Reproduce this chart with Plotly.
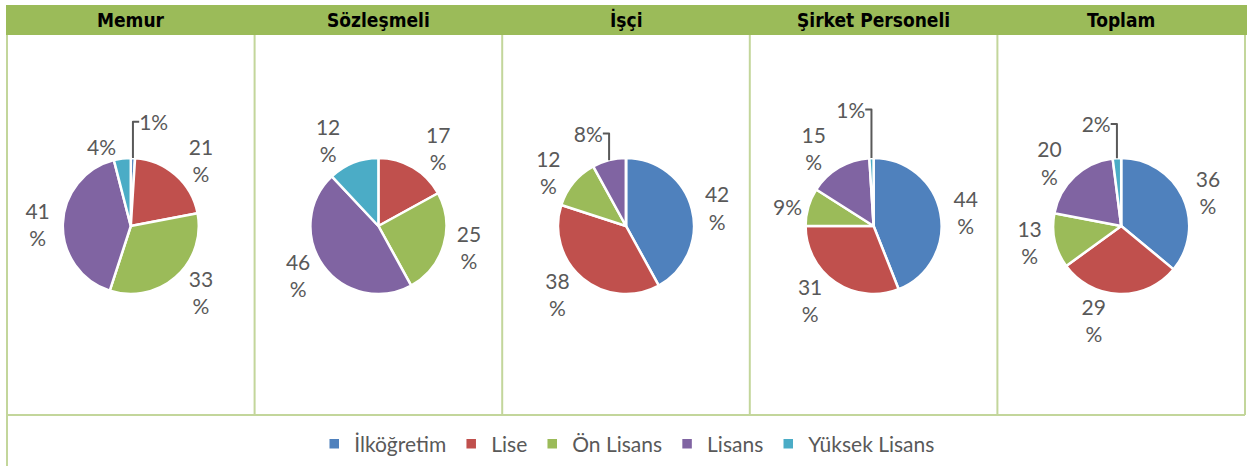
import plotly.graph_objects as go

W, H = 1247, 466

# ---- data ----
categories = ["İlköğretim", "Lise", "Ön Lisans", "Lisans", "Yüksek Lisans"]
groups = ["Memur", "Sözleşmeli", "İşçi", "Şirket Personeli", "Toplam"]
memur = [1, 21, 33, 41, 4]
sozlesmeli = [0, 17, 25, 46, 12]
isci = [42, 38, 12, 8, 0]
sirket = [44, 31, 9, 15, 1]
toplam = [36, 29, 13, 20, 2]
series = [memur, sozlesmeli, isci, sirket, toplam]

colors = ["#4f81bd", "#c0504d", "#9bbb59", "#8064a2", "#4bacc6"]
HEADER = "#9bbb59"
BORDER = "#c3d69b"
TXT = "#595959"

# ---- layout geometry (pixels) ----
left, right = 7, 1245
col_w = (right - left) / 5
head_top, head_bot = 5, 35
row_bot = 415
pie_cy, pie_r = 226, 68


def fx(px):
    return px / W


def fy(py):
    return 1 - py / H


def label_text(v):
    if v == 0:
        return ""
    return f"{v}%" if v < 10 else f"{v}<br>%"


fig = go.Figure()
for i, (g, vals) in enumerate(zip(groups, series)):
    cx = left + col_w * (i + 0.5)
    fig.add_trace(go.Pie(
        labels=categories,
        values=vals,
        text=[label_text(v) for v in vals],
        textinfo="text",
        textposition="outside",
        textfont=dict(family="Lato, Calibri, sans-serif", size=21, color=TXT),
        marker=dict(colors=colors, line=dict(color="white", width=2.5)),
        sort=False,
        direction="clockwise",
        rotation=0,
        domain=dict(x=[fx(cx - pie_r), fx(cx + pie_r)],
                    y=[fy(pie_cy + pie_r), fy(pie_cy - pie_r)]),
        showlegend=(i == 0),
        hoverinfo="label+percent",
        name=g,
    ))

shapes = []
# header band
shapes.append(dict(type="rect", xref="paper", yref="paper",
                   x0=fx(6), x1=fx(W), y0=fy(head_bot), y1=fy(head_top),
                   fillcolor=HEADER, line=dict(width=0), layer="below"))
# vertical borders
for i in range(6):
    x = left + col_w * i
    y_end = H if i == 0 else row_bot
    shapes.append(dict(type="line", xref="paper", yref="paper",
                       x0=fx(x), x1=fx(x), y0=fy(head_bot), y1=fy(y_end),
                       line=dict(color=BORDER, width=2)))
# horizontal line above legend
shapes.append(dict(type="line", xref="paper", yref="paper",
                   x0=fx(left), x1=fx(right), y0=fy(row_bot), y1=fy(row_bot),
                   line=dict(color=BORDER, width=2)))

annotations = []
for i, g in enumerate(groups):
    cx = left + col_w * (i + 0.5)
    annotations.append(dict(
        x=fx(cx), y=fy((head_top + head_bot) / 2), xref="paper", yref="paper",
        text=f"<b>{g}</b>", showarrow=False, xanchor="center", yanchor="middle",
        font=dict(family="DejaVu Sans Condensed, sans-serif",
                  size=19, color="black"),
    ))

fig.update_layout(
    width=W, height=H,
    margin=dict(l=0, r=0, t=0, b=0),
    paper_bgcolor="white", plot_bgcolor="white",
    shapes=shapes, annotations=annotations,
    legend=dict(orientation="h", x=0.503, xanchor="center", y=fy(444), yanchor="middle",
                font=dict(family="Lato, Calibri, sans-serif", size=21, color=TXT),
                itemwidth=30, traceorder="normal"),
)

fig.write_html("out.html", config={"displayModeBar": False},
               post_script="document.body.style.margin='0';")
